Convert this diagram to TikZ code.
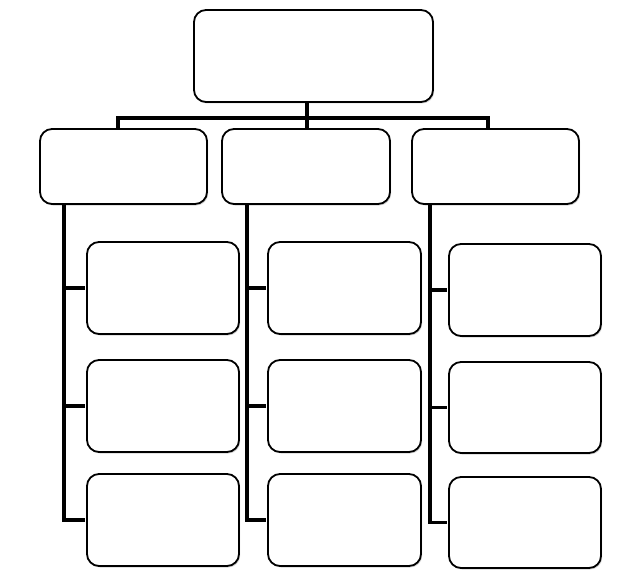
\documentclass[tikz,border=0pt]{standalone}
\usetikzlibrary{shadows}
\begin{document}
\begin{tikzpicture}[x=1pt,y=1pt,
  box/.style={draw=black, line width=1.8pt, fill=white, rounded corners=12pt,
    drop shadow={opacity=0.35, shadow xshift=1.2pt, shadow yshift=-1.5pt}},
  conn/.style={draw=black, line width=3.6pt}]
\useasboundingbox (0,0) rectangle (618,-580);
% connectors first (behind boxes)
\coordinate (bl) at (118,-118);
\coordinate (bm) at (307,-118);
\coordinate (br) at (488,-118);
\coordinate (sl) at (64,-204);
\coordinate (sm) at (247,-204);
\coordinate (sr) at (430,-204);
% boxes
\node[box, minimum width=239pt, minimum height=92pt] (top) at (313.5,-56) {};
\node[box, minimum width=167pt, minimum height=75pt] (l) at (123.5,-166.5) {};
\node[box, minimum width=168pt, minimum height=75pt] (m) at (306,-166.5) {};
\node[box, minimum width=167pt, minimum height=75pt] (r) at (495.5,-166.5) {};
\path[conn] (top.south -| bm) -- (bm);
\path[conn] ([xshift=-1.8pt]bl) -- ([xshift=1.8pt]br);
\path[conn] (bl) -- (bl |- l.north);
\path[conn] (bm) -- (bm |- m.north);
\path[conn] (br) -- (br |- r.north);
\node[box, minimum width=152pt, minimum height=92pt] (a1) at (163,-288) {};
\node[box, minimum width=152pt, minimum height=92pt] (a2) at (163,-406) {};
\node[box, minimum width=152pt, minimum height=92pt] (a3) at (163,-520) {};
\node[box, minimum width=153pt, minimum height=92pt] (b1) at (344.5,-288) {};
\node[box, minimum width=153pt, minimum height=92pt] (b2) at (344.5,-406) {};
\node[box, minimum width=153pt, minimum height=92pt] (b3) at (344.5,-520) {};
\node[box, minimum width=152pt, minimum height=92pt] (c1) at (525,-290) {};
\node[box, minimum width=152pt, minimum height=91pt] (c2) at (525,-407.5) {};
\node[box, minimum width=152pt, minimum height=91pt] (c3) at (525,-522.5) {};
% spines
\path[conn] (sl |- l.south) -- (sl |- a3.west) -- ([xshift=-0.9pt]a3.west);
\path[conn] ([xshift=-0.9pt]a1.west) -- (a1.west -| sl);
\path[conn] ([xshift=-0.9pt]a2.west) -- (a2.west -| sl);
\path[conn] (sm |- m.south) -- (sm |- b3.west) -- ([xshift=-0.9pt]b3.west);
\path[conn] ([xshift=-0.9pt]b1.west) -- (b1.west -| sm);
\path[conn] ([xshift=-0.9pt]b2.west) -- (b2.west -| sm);
\path[conn] (sr |- r.south) -- (sr |- c3.west) -- ([xshift=-0.9pt]c3.west);
\path[conn] ([xshift=-0.9pt]c1.west) -- (c1.west -| sr);
\path[conn] ([xshift=-0.9pt]c2.west) -- (c2.west -| sr);
\end{tikzpicture}
\end{document}
